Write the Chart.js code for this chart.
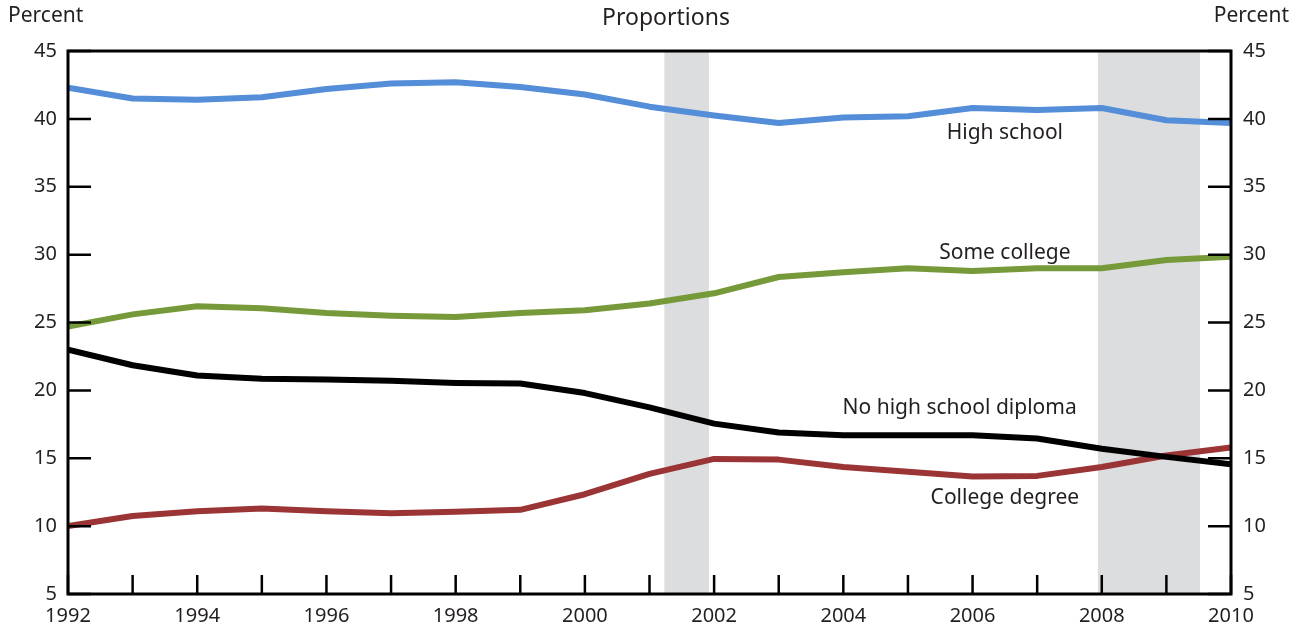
<html>
<head>
    <meta charset="UTF-8">
    <title>Proportions</title>
    <script src="https://cdn.jsdelivr.net/npm/chart.js"></script>
    <style>
        body { margin: 0; background: #fff; }
        #wrap { width: 1301px; height: 632px; }
    </style>
</head>
<body>
<div id="wrap">
    <canvas id="chartCanvas" width="1301" height="632"></canvas>
</div>
<script>
    const years = [1992, 1993, 1994, 1995, 1996, 1997, 1998, 1999, 2000, 2001,
        2002, 2003, 2004, 2005, 2006, 2007, 2008, 2009, 2010];
    const highSchool = [42.3, 41.5, 41.4, 41.6, 42.2, 42.6, 42.7, 42.35, 41.8, 40.9,
        40.25, 39.7, 40.1, 40.2, 40.8, 40.65, 40.8, 39.9, 39.7];
    const someCollege = [24.7, 25.6, 26.2, 26.05, 25.7, 25.5, 25.4, 25.7, 25.9, 26.4,
        27.15, 28.35, 28.7, 29.0, 28.8, 29.0, 29.0, 29.6, 29.85];
    const noDiploma = [23.0, 21.85, 21.1, 20.85, 20.8, 20.7, 20.55, 20.5, 19.8, 18.75,
        17.55, 16.9, 16.7, 16.7, 16.7, 16.45, 15.7, 15.1, 14.55];
    const collegeDegree = [10.0, 10.75, 11.1, 11.3, 11.1, 10.95, 11.05, 11.2, 12.35, 13.85,
        14.95, 14.9, 14.35, 14.0, 13.65, 13.7, 14.35, 15.2, 15.8];
    const recessions = [[2001.23, 2001.92], [2007.94, 2009.52]];
    const yTicks = [5, 10, 15, 20, 25, 30, 35, 40, 45];

    const lineLabels = [
        {text: "High school", x: 2006.5, y: 38.95},
        {text: "Some college", x: 2006.5, y: 30.1},
        {text: "No high school diploma", x: 2005.8, y: 18.7},
        {text: "College degree", x: 2006.5, y: 12.05}
    ];

    const FONT = '"Noto Sans", "DejaVu Sans", sans-serif';

    function toPoints(vals) {
        return vals.map((v, i) => ({x: years[i], y: v}));
    }

    const frame = {
        id: "frame",
        beforeDatasetsDraw(chart) {
            const {ctx, chartArea: a, scales} = chart;
            ctx.save();
            ctx.fillStyle = "#dcdddf";
            for (const r of recessions) {
                const x1 = scales.x.getPixelForValue(r[0]);
                const x2 = scales.x.getPixelForValue(r[1]);
                ctx.fillRect(x1, a.top, x2 - x1, a.bottom - a.top);
            }
            ctx.restore();
        },
        afterDatasetsDraw(chart) {
            const {ctx, chartArea: a, scales} = chart;
            ctx.save();
            ctx.strokeStyle = "#000";
            ctx.lineWidth = 3;
            ctx.strokeRect(a.left, a.top, a.right - a.left, a.bottom - a.top);
            ctx.lineWidth = 2.5;
            ctx.beginPath();
            for (const v of yTicks) {
                const y = scales.y.getPixelForValue(v);
                ctx.moveTo(a.left, y);
                ctx.lineTo(a.left + 23, y);
                ctx.moveTo(a.right, y);
                ctx.lineTo(a.right - 23, y);
            }
            for (const yr of years) {
                const x = scales.x.getPixelForValue(yr);
                ctx.moveTo(x, a.bottom);
                ctx.lineTo(x, a.bottom - 19);
            }
            ctx.stroke();

            ctx.fillStyle = "#231f20";
            ctx.font = "21px " + FONT;
            ctx.textAlign = "center";
            ctx.textBaseline = "middle";
            for (const l of lineLabels) {
                ctx.fillText(l.text, scales.x.getPixelForValue(l.x), scales.y.getPixelForValue(l.y));
            }

            ctx.font = "21px " + FONT;
            ctx.textBaseline = "middle";
            ctx.textAlign = "left";
            ctx.fillText("Percent", 8, 16);
            ctx.textAlign = "right";
            ctx.fillText("Percent", 1289, 16);
            ctx.textAlign = "center";
            ctx.font = "23px " + FONT;
            ctx.fillText("Proportions", 666, 18);
            ctx.restore();
        }
    };

    const series = [
        {label: "High school", data: highSchool, color: "rgb(84,141,216)"},
        {label: "Some college", data: someCollege, color: "rgb(118,153,58)"},
        {label: "No high school diploma", data: noDiploma, color: "rgb(0,0,0)"},
        {label: "College degree", data: collegeDegree, color: "rgb(155,52,52)"}
    ];

    const tickFont = {family: FONT, size: 20};

    new Chart(document.getElementById("chartCanvas"), {
        type: "line",
        data: {
            datasets: series.map(s => ({
                label: s.label,
                data: toPoints(s.data),
                borderColor: s.color,
                backgroundColor: s.color,
                borderWidth: 6,
                pointRadius: 0,
                tension: 0,
                borderJoinStyle: "round"
            }))
        },
        options: {
            responsive: false,
            animation: false,
            layout: {padding: {top: 51, left: 0, right: 0, bottom: 0}},
            plugins: {legend: {display: false}, tooltip: {enabled: false}},
            scales: {
                x: {
                    type: "linear",
                    min: 1992,
                    max: 2010,
                    grid: {display: false, drawTicks: false},
                    border: {display: false},
                    afterFit(scale) { scale.height = 38; },
                    ticks: {
                        stepSize: 1,
                        autoSkip: false,
                        maxRotation: 0,
                        padding: 10,
                        color: "#231f20",
                        font: tickFont,
                        callback: v => (v % 2 === 0 ? String(v) : "")
                    }
                },
                y: {
                    position: "left",
                    min: 5,
                    max: 45,
                    grid: {display: false, drawTicks: false},
                    border: {display: false},
                    afterFit(scale) { scale.width = 68; },
                    ticks: {stepSize: 5, padding: 11, color: "#231f20", font: tickFont}
                },
                y2: {
                    position: "right",
                    min: 5,
                    max: 45,
                    grid: {display: false, drawTicks: false},
                    border: {display: false},
                    afterFit(scale) { scale.width = 70; },
                    ticks: {stepSize: 5, padding: 12, color: "#231f20", font: tickFont}
                }
            }
        },
        plugins: [frame]
    });
</script>
</body>
</html>
